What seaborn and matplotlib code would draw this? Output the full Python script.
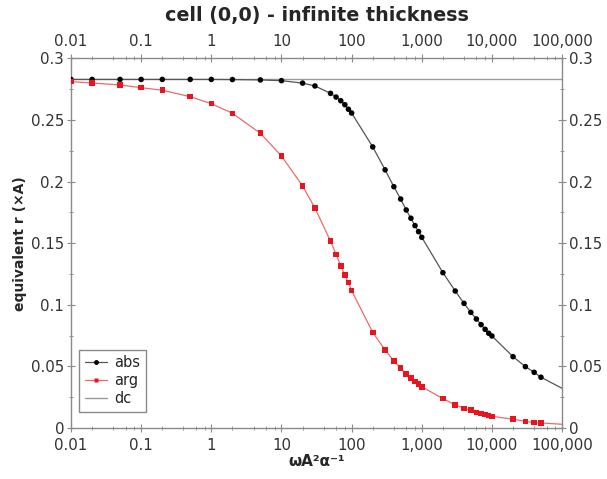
import numpy as np
import pandas as pd
import matplotlib
matplotlib.use("Agg")
import matplotlib.pyplot as plt
import matplotlib.ticker as mticker
from matplotlib.lines import Line2D
import seaborn as sns

# sample frequencies (omega A^2 / alpha)
freq = [0.01, 0.02, 0.05, 0.1, 0.2, 0.5, 1, 2, 5, 10, 20, 30, 50, 60, 70, 80, 90, 100,
        200, 300, 400, 500, 600, 700, 800, 900, 1000,
        2000, 3000, 4000, 5000, 6000, 7000, 8000, 9000, 10000,
        20000, 30000, 40000, 50000]

abs_r = [0.283, 0.283, 0.283, 0.283, 0.283, 0.283, 0.283, 0.2829, 0.2826, 0.282,
         0.280, 0.2777, 0.2717, 0.2687, 0.2657, 0.2625, 0.2588, 0.2557,
         0.2282, 0.2096, 0.1959, 0.1859, 0.177, 0.1703, 0.1643, 0.1594, 0.1548,
         0.1261, 0.1112, 0.1012, 0.0939, 0.0885, 0.0839, 0.0801, 0.0769, 0.0747,
         0.0579, 0.0498, 0.0452, 0.0412]

arg_r = [0.2812, 0.2801, 0.2785, 0.2763, 0.2742, 0.269, 0.2633, 0.2555, 0.2393, 0.2208,
         0.1965, 0.1786, 0.1518, 0.141, 0.1315, 0.1242, 0.118, 0.1115,
         0.0776, 0.0633, 0.0544, 0.0485, 0.0438, 0.0406, 0.0376, 0.0357, 0.0335,
         0.0238, 0.0187, 0.016, 0.0144, 0.0127, 0.0116, 0.0108, 0.01, 0.0095,
         0.0071, 0.0054, 0.0043, 0.0041]

# model curves run on to the axis edge
end_freq = 100000
abs_end = 0.0322
arg_end = 0.003
dc_value = 0.283

pts = pd.DataFrame({"freq": freq, "abs": abs_r, "arg": arg_r})
curve = pd.DataFrame({"freq": freq + [end_freq],
                      "abs": abs_r + [abs_end],
                      "arg": arg_r + [arg_end]})

sns.set_style("ticks")
plt.rcParams["font.family"] = ["DejaVu Sans"]

fig = plt.figure(figsize=(6.07, 4.79), dpi=100)
ax = fig.add_axes([0.117, 0.1065, 0.809, 0.7714])

axis_grey = "#8a8a8a"
red = "#e8141e"

ax.axhline(dc_value, color="#9a9a9a", lw=1.0, zorder=1)
sns.lineplot(data=curve, x="freq", y="abs", ax=ax, color="#555555", lw=0.9, zorder=2)
sns.lineplot(data=curve, x="freq", y="arg", ax=ax, color="#ee6a6a", lw=0.9, zorder=2)
sns.scatterplot(data=pts, x="freq", y="abs", ax=ax, color="black", marker="o",
                s=16, edgecolor="none", zorder=3)
sns.scatterplot(data=pts, x="freq", y="arg", ax=ax, color=red, marker="s",
                s=16, edgecolor="none", zorder=3)

ax.set_xscale("log")
ax.set_xlim(0.01, 100000)
ax.set_ylim(0, 0.3)

fmt = mticker.FuncFormatter(lambda v, p: format(v, ",g"))
ax.xaxis.set_major_locator(mticker.FixedLocator([0.01, 0.1, 1, 10, 100, 1000, 10000, 100000]))
ax.xaxis.set_minor_locator(mticker.LogLocator(base=10, subs=(2, 4, 6, 8), numticks=20))
ax.xaxis.set_minor_formatter(mticker.NullFormatter())
ax.xaxis.set_major_formatter(fmt)
ax.yaxis.set_major_locator(mticker.MultipleLocator(0.05))
ax.yaxis.set_minor_locator(mticker.MultipleLocator(0.025))
ax.yaxis.set_major_formatter(mticker.FuncFormatter(lambda v, p: format(v, "g")))

ax.tick_params(which="both", top=True, right=True, labeltop=True, labelright=True,
               direction="inout", colors=axis_grey, labelcolor="#333333",
               labelsize=10.8)
ax.tick_params(which="major", length=6, width=0.8)
ax.tick_params(axis="y", which="major", pad=2)
ax.tick_params(axis="x", which="major", pad=4)
ax.tick_params(which="minor", length=3, width=0.6)
for sp in ax.spines.values():
    sp.set_color(axis_grey)
    sp.set_linewidth(1.0)

ax.set_xlabel("ωA²α⁻¹", fontsize=11, fontweight="bold", labelpad=1)
ax.set_ylabel("equivalent r (×A)", fontsize=10, fontweight="bold", labelpad=3)
ax.set_title("cell (0,0) - infinite thickness", fontsize=13.8, fontweight="bold", pad=9)

handles = [Line2D([], [], color="#555555", lw=0.9, marker="o", markersize=3.5,
                  markerfacecolor="black", markeredgecolor="none"),
           Line2D([], [], color="#ee6a6a", lw=0.9, marker="s", markersize=3.5,
                  markerfacecolor=red, markeredgecolor="none"),
           Line2D([], [], color="#9a9a9a", lw=1.0)]
leg = ax.legend(handles, ["abs", "arg", "dc"], loc="lower left",
                bbox_to_anchor=(0.016, 0.043), borderaxespad=0, fontsize=10.5,
                fancybox=False, framealpha=1, edgecolor=axis_grey, handlelength=1.5,
                handletextpad=0.5, borderpad=0.4, labelspacing=0.2)
leg.get_frame().set_linewidth(1.0)

fig.savefig("out.png", dpi=100)
